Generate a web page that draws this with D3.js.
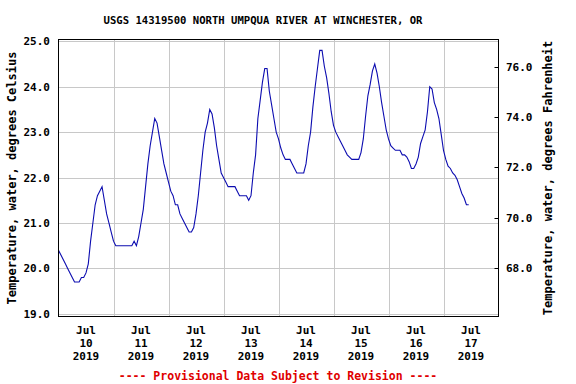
<!DOCTYPE html>
<html>
<head>
<meta charset="utf-8">
<script src="https://cdn.jsdelivr.net/npm/d3@7"></script>
<style>
  body { margin: 0; background: #fff; }
  text { font-family: "DejaVu Sans Mono", monospace; font-weight: bold; }
</style>
</head>
<body>
<svg width="576" height="384"></svg>
<script>
// hourly water temperature (deg C), starting 00:00 each day
var jul10 = [20.4, 20.3, 20.2, 20.1, 20.0, 19.9, 19.8, 19.7, 19.7, 19.7, 19.8, 19.8,
             19.9, 20.1, 20.6, 21.0, 21.4, 21.6, 21.7, 21.8, 21.5, 21.2, 21.0, 20.8];
var jul11 = [20.6, 20.5, 20.5, 20.5, 20.5, 20.5, 20.5, 20.5, 20.5, 20.6, 20.5, 20.7,
             21.0, 21.3, 21.8, 22.3, 22.7, 23.0, 23.3, 23.2, 22.9, 22.6, 22.3, 22.1];
var jul12 = [21.9, 21.7, 21.6, 21.4, 21.4, 21.2, 21.1, 21.0, 20.9, 20.8, 20.8, 20.9,
             21.2, 21.6, 22.1, 22.6, 23.0, 23.2, 23.5, 23.4, 23.1, 22.7, 22.4, 22.1];
var jul13 = [22.0, 21.9, 21.8, 21.8, 21.8, 21.8, 21.7, 21.6, 21.6, 21.6, 21.6, 21.5,
             21.6, 22.1, 22.5, 23.3, 23.7, 24.1, 24.4, 24.4, 23.9, 23.6, 23.3, 23.0];
var jul14 = [22.85, 22.65, 22.5, 22.4, 22.4, 22.4, 22.3, 22.2, 22.1, 22.1, 22.1, 22.1,
             22.3, 22.7, 23.0, 23.55, 24.0, 24.4, 24.8, 24.8, 24.45, 24.2, 23.85, 23.45];
var jul15 = [23.15, 23.0, 22.9, 22.8, 22.7, 22.6, 22.5, 22.45, 22.4, 22.4, 22.4, 22.4,
             22.55, 22.85, 23.35, 23.8, 24.05, 24.35, 24.5, 24.3, 24.0, 23.65, 23.35, 23.05];
var jul16 = [22.85, 22.7, 22.65, 22.6, 22.6, 22.6, 22.5, 22.5, 22.45, 22.35, 22.2, 22.2,
             22.3, 22.45, 22.75, 22.9, 23.05, 23.45, 24.0, 23.95, 23.65, 23.5, 23.3, 22.95];
var jul17 = [22.6, 22.4, 22.25, 22.2, 22.1, 22.05, 21.95, 21.8, 21.65, 21.55, 21.4, 21.4];

var days = [jul10, jul11, jul12, jul13, jul14, jul15, jul16, jul17];
var dayLabels = ["10", "11", "12", "13", "14", "15", "16", "17"];
var celsiusTicks = [19, 20, 21, 22, 23, 24, 25];
var fahrenheitTicks = [68, 70, 72, 74, 76];

var title = "USGS 14319500 NORTH UMPQUA RIVER AT WINCHESTER, OR";
var leftTitle = "Temperature, water, degrees Celsius";
var rightTitle = "Temperature, water, degrees Fahrenheit";
var footer = "---- Provisional Data Subject to Revision ----";

var svg = d3.select("svg"),
    pLeft = 58.5, pRight = 498.5, pTop = 39.5, pBottom = 316.5;

var start = new Date(2019, 6, 10), end = new Date(2019, 6, 18);

var data = [];
days.forEach(function(vals, d) {
  vals.forEach(function(v, h) {
    data.push({ t: new Date(2019, 6, 10 + d, h), v: v });
  });
});

var x = d3.scaleTime().domain([start, end]).range([pLeft, pRight]);
var y = d3.scaleLinear().domain([19, 25]).range([313.8, 41.3]);
var yF = d3.scaleLinear().domain([19 * 1.8 + 32, 25 * 1.8 + 32]).range([313.8, 41.3]);

// grid
var g = svg.append("g");
g.selectAll("line.hg")
  .data(celsiusTicks)
  .enter().append("line")
    .attr("x1", pLeft).attr("x2", pRight)
    .attr("y1", function(d) { return Math.round(y(d)) + 0.5; })
    .attr("y2", function(d) { return Math.round(y(d)) + 0.5; })
    .attr("stroke", "#c8c8c8");

g.selectAll("line.vg")
  .data(d3.timeDay.range(d3.timeDay.offset(start, 1), end))
  .enter().append("line")
    .attr("y1", pTop).attr("y2", pBottom)
    .attr("x1", function(d) { return Math.round(x(d)) + 0.5; })
    .attr("x2", function(d) { return Math.round(x(d)) + 0.5; })
    .attr("stroke", "#c8c8c8");

// the series
var line = d3.line()
    .x(function(d) { return x(d.t); })
    .y(function(d) { return y(d.v); });

svg.append("path")
    .datum(data)
    .attr("d", line)
    .attr("fill", "none")
    .attr("stroke", "#0c0cb0")
    .attr("stroke-width", 1.1);

// frame
svg.append("rect")
    .attr("x", pLeft).attr("y", pTop)
    .attr("width", pRight - pLeft).attr("height", pBottom - pTop)
    .attr("fill", "none").attr("stroke", "#000");

// left labels
svg.selectAll("text.yl")
  .data(celsiusTicks)
  .enter().append("text")
    .attr("x", 50)
    .attr("y", function(d) { return y(d) + 4; })
    .attr("text-anchor", "end")
    .attr("font-size", "11px")
    .text(function(d) { return d.toFixed(1); });

// right ticks + labels
svg.selectAll("line.rt")
  .data(fahrenheitTicks)
  .enter().append("line")
    .attr("x1", pRight - 4).attr("x2", pRight)
    .attr("y1", function(d) { return Math.round(yF(d)) + 0.5; })
    .attr("y2", function(d) { return Math.round(yF(d)) + 0.5; })
    .attr("stroke", "#000");

svg.selectAll("text.yr")
  .data(fahrenheitTicks)
  .enter().append("text")
    .attr("x", 506)
    .attr("y", function(d) { return yF(d) + 4; })
    .attr("font-size", "11px")
    .text(function(d) { return d.toFixed(1); });

// x labels at noon of each day
var xl = svg.selectAll("text.xl")
  .data(dayLabels)
  .enter().append("text")
    .attr("text-anchor", "middle")
    .attr("font-size", "11px");
[["Jul", 334], [null, 347], ["2019", 360]].forEach(function(row) {
  xl.append("tspan")
    .attr("x", function(d, i) { return x(new Date(2019, 6, 10 + i, 12)); })
    .attr("y", row[1])
    .text(function(d) { return row[0] || d; });
});

svg.append("text")
    .attr("x", 263).attr("y", 24)
    .attr("text-anchor", "middle")
    .attr("font-size", "10.6px")
    .text(title);

svg.append("text")
    .attr("transform", "translate(16," + (pTop + pBottom) / 2 + ") rotate(-90)")
    .attr("text-anchor", "middle")
    .attr("font-size", "12px")
    .text(leftTitle);

svg.append("text")
    .attr("transform", "translate(552," + (pTop + pBottom) / 2 + ") rotate(-90)")
    .attr("text-anchor", "middle")
    .attr("font-size", "12px")
    .text(rightTitle);

svg.append("text")
    .attr("x", 278).attr("y", 380)
    .attr("text-anchor", "middle")
    .attr("font-size", "11.5px")
    .attr("fill", "#e00000")
    .text(footer);
</script>
</body>
</html>
